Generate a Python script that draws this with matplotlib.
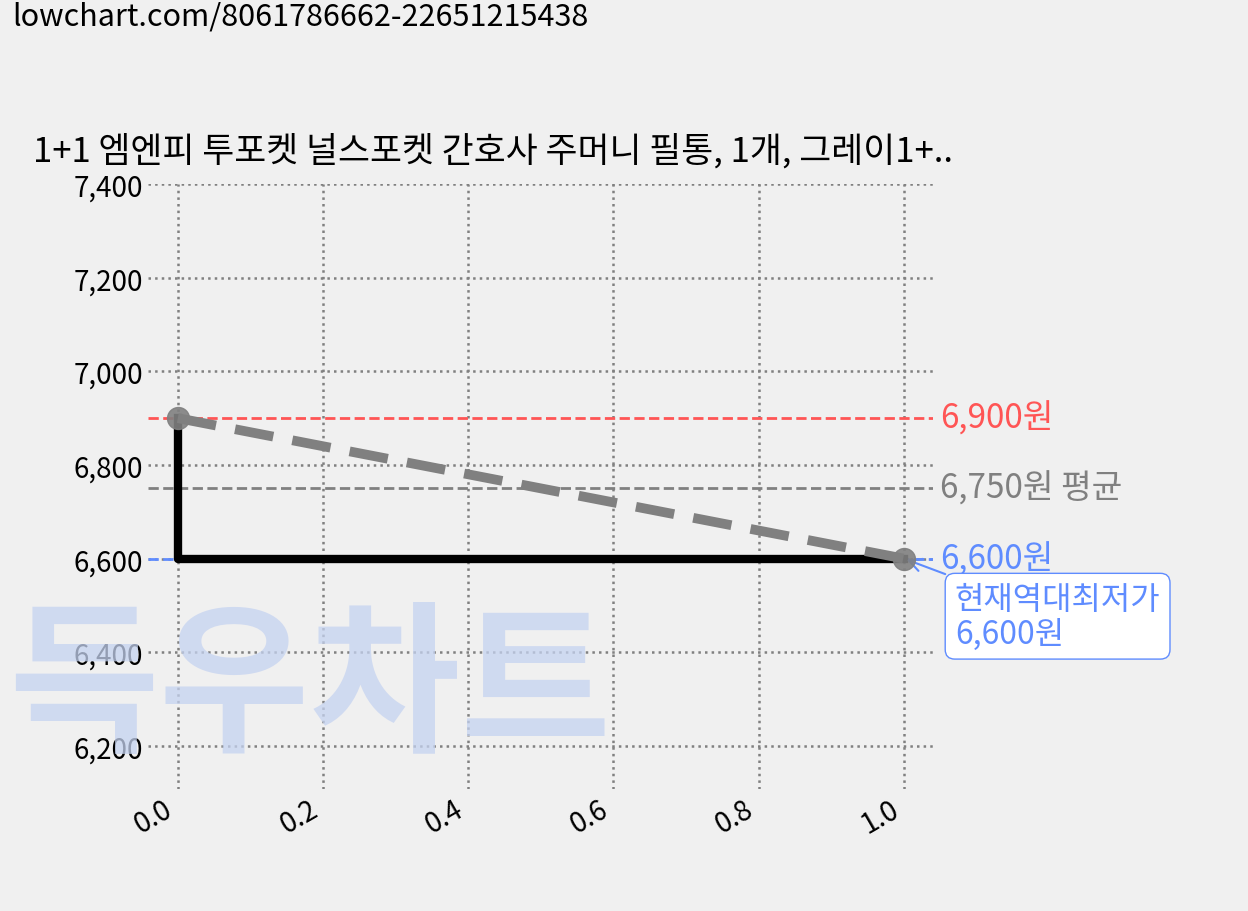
import matplotlib
matplotlib.use("Agg")
import matplotlib.pyplot as plt

plt.rcParams['font.family'] = ['Noto Sans CJK KR', 'DejaVu Sans']

x_vals = [0.0, 1.0]
prices = [6900, 6600]
max_price = 6900
avg_price = 6750
min_price = 6600
title = "1+1 엠엔피 투포켓 널스포켓 간호사 주머니 필통, 1개, 그레이1+.."
url = "lowchart.com/8061786662-22651215438"

fig = plt.figure(figsize=(12.48, 9.12), dpi=100, facecolor='#f0f0f0')
ax = fig.add_axes([148/1248, 1-790/912, (933-148)/1248, (790-185)/912])
ax.set_facecolor('#f0f0f0')
for s in ax.spines.values():
    s.set_visible(False)

fig.text(310/1248, 1-690/912, "득우차트", fontsize=118, color='#c5d3f0', alpha=0.75,
         ha='center', va='center', fontweight='black', style='italic', zorder=0)

ax.grid(True, color='gray', linestyle=':', linewidth=1.8)
ax.set_xlim(-0.041, 1.04)
ax.set_ylim(6108, 7400)
ax.set_yticks([6200, 6400, 6600, 6800, 7000, 7200, 7400])
ax.set_yticklabels([f"{v:,}" for v in [6200, 6400, 6600, 6800, 7000, 7200, 7400]])
ax.set_xticks([0.0, 0.2, 0.4, 0.6, 0.8, 1.0])
ax.tick_params(length=0, labelsize=20)
for lab in ax.get_xticklabels():
    lab.set_rotation(30); lab.set_ha('right')

ax.axhline(max_price, color='#ff5555', linestyle='--', linewidth=2)
ax.axhline(avg_price, color='gray', linestyle='--', linewidth=2)
ax.axhline(min_price, color='#5f8cff', linestyle='--', linewidth=2)

ax.plot([x_vals[0], x_vals[0], x_vals[1]], [prices[0], prices[1], prices[1]], color='black', linewidth=6)
ax.plot(x_vals, prices, color='gray', linestyle='--', linewidth=7, dashes=(4, 2))
ax.scatter(x_vals, prices, s=250, color='gray', alpha=0.9, zorder=5)

ax.text(1.05, max_price, f"{max_price:,}원", color='#ff5555', fontsize=24, va='center')
ax.text(1.05, avg_price, f"{avg_price:,}원 평균", color='gray', fontsize=24, va='center')
ax.text(1.05, min_price, f"{min_price:,}원", color='#5f8cff', fontsize=24, va='center')
ax.annotate(f"현재역대최저가\n{min_price:,}원", xy=(1.0, min_price), xytext=(1.07, 6477),
            color='#5f8cff', fontsize=23, va='center', annotation_clip=False, linespacing=1.1,
            bbox=dict(boxstyle='round,pad=0.3', fc='white', ec='#5f8cff'),
            arrowprops=dict(arrowstyle='->', color='#5f8cff', lw=1.5))

fig.text(12/1248, 1-17/912, url, fontsize=22, va='center')
fig.text(33/1248, 1-152/912, title, fontsize=25, va='center')
fig.savefig("out.png", dpi=100, facecolor=fig.get_facecolor())
